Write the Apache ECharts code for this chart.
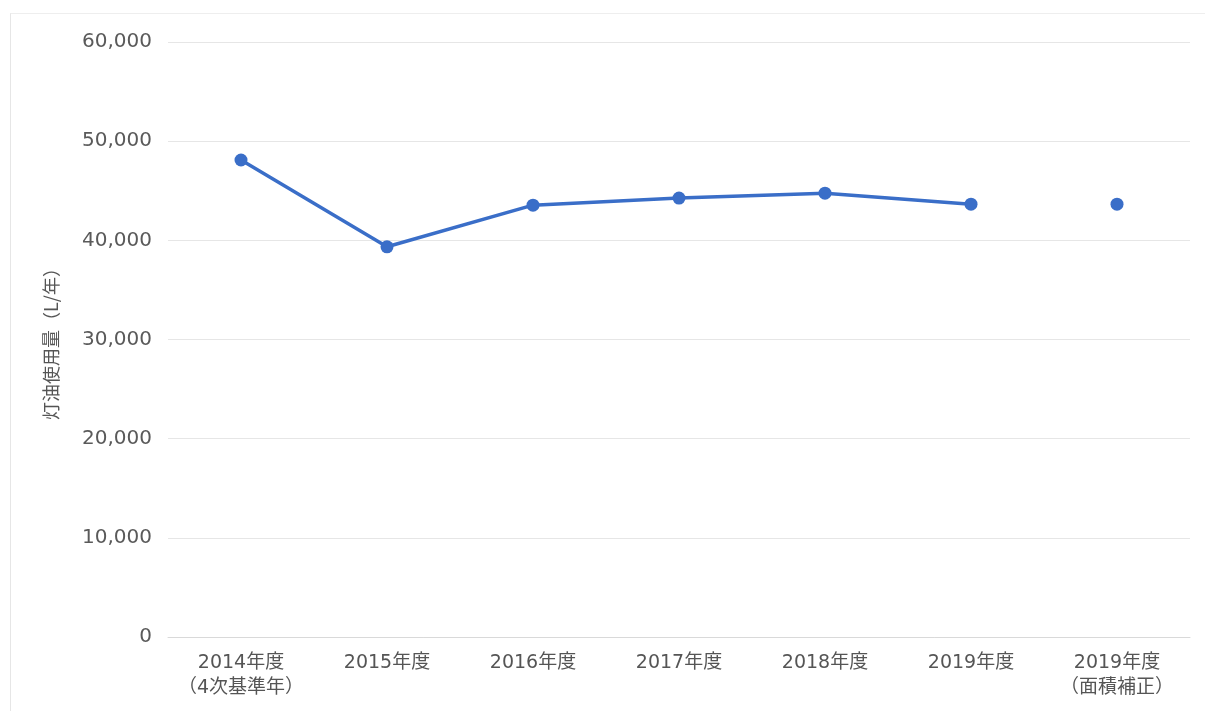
<!DOCTYPE html>
<html>
<head>
<meta charset="utf-8">
<script src="https://cdn.jsdelivr.net/npm/echarts@6/dist/echarts.min.js"></script>
<style>
  html, body { margin: 0; padding: 0; background: #fff; }
  #frame { position: absolute; left: 10px; top: 13px; width: 1200px; height: 700px; border-left: 1px solid #e6e6e6; border-top: 1px solid #eeeeee; }
  #chart { position: absolute; left: 0; top: 0; width: 1205px; height: 711px; }
</style>
</head>
<body>
<div id="frame"></div>
<div id="chart"></div>
<script>
  const categories = ['2014年度\n（4次基準年）', '2015年度', '2016年度', '2017年度', '2018年度', '2019年度', '2019年度\n（面積補正）'];
  const yearlyUse = [48100, 39350, 43550, 44260, 44760, 43650, '-'];
  const correctedUse = ['-', '-', '-', '-', '-', '-', 43650];

  const chart = echarts.init(document.getElementById('chart'));
  const font = '"DejaVu Sans", "Noto Sans CJK JP", sans-serif';
  const blue = '#3a6ec8';

  chart.setOption({
    animation: false,
    grid: { left: 168, right: 15, top: 42, bottom: 74 },
    xAxis: {
      type: 'category',
      data: categories,
      axisLine: { lineStyle: { color: '#d9d9d9' } },
      axisTick: { show: false },
      axisLabel: { interval: 0, color: '#555', fontSize: 19, fontFamily: font, lineHeight: 25, margin: 14 }
    },
    yAxis: {
      type: 'value',
      min: 0, max: 60000, interval: 10000,
      name: '灯油使用量（L/年）',
      nameLocation: 'middle',
      nameGap: 108,
      nameTextStyle: { color: '#555', fontSize: 18, fontFamily: '"Noto Sans CJK JP", sans-serif' },
      axisLine: { show: false },
      axisTick: { show: false },
      splitLine: { lineStyle: { color: '#e6e6e6' } },
      axisLabel: {
        color: '#5a5a5a', fontSize: 20, fontFamily: font, margin: 16,
        formatter: v => v.toLocaleString('en-US')
      }
    },
    series: [
      {
        type: 'line', data: yearlyUse,
        symbol: 'circle', symbolSize: 13,
        lineStyle: { color: blue, width: 3.5 },
        itemStyle: { color: blue }
      },
      {
        type: 'line', data: correctedUse,
        symbol: 'circle', symbolSize: 13,
        lineStyle: { color: blue, width: 3.5 },
        itemStyle: { color: blue }
      }
    ]
  });
</script>
</body>
</html>
